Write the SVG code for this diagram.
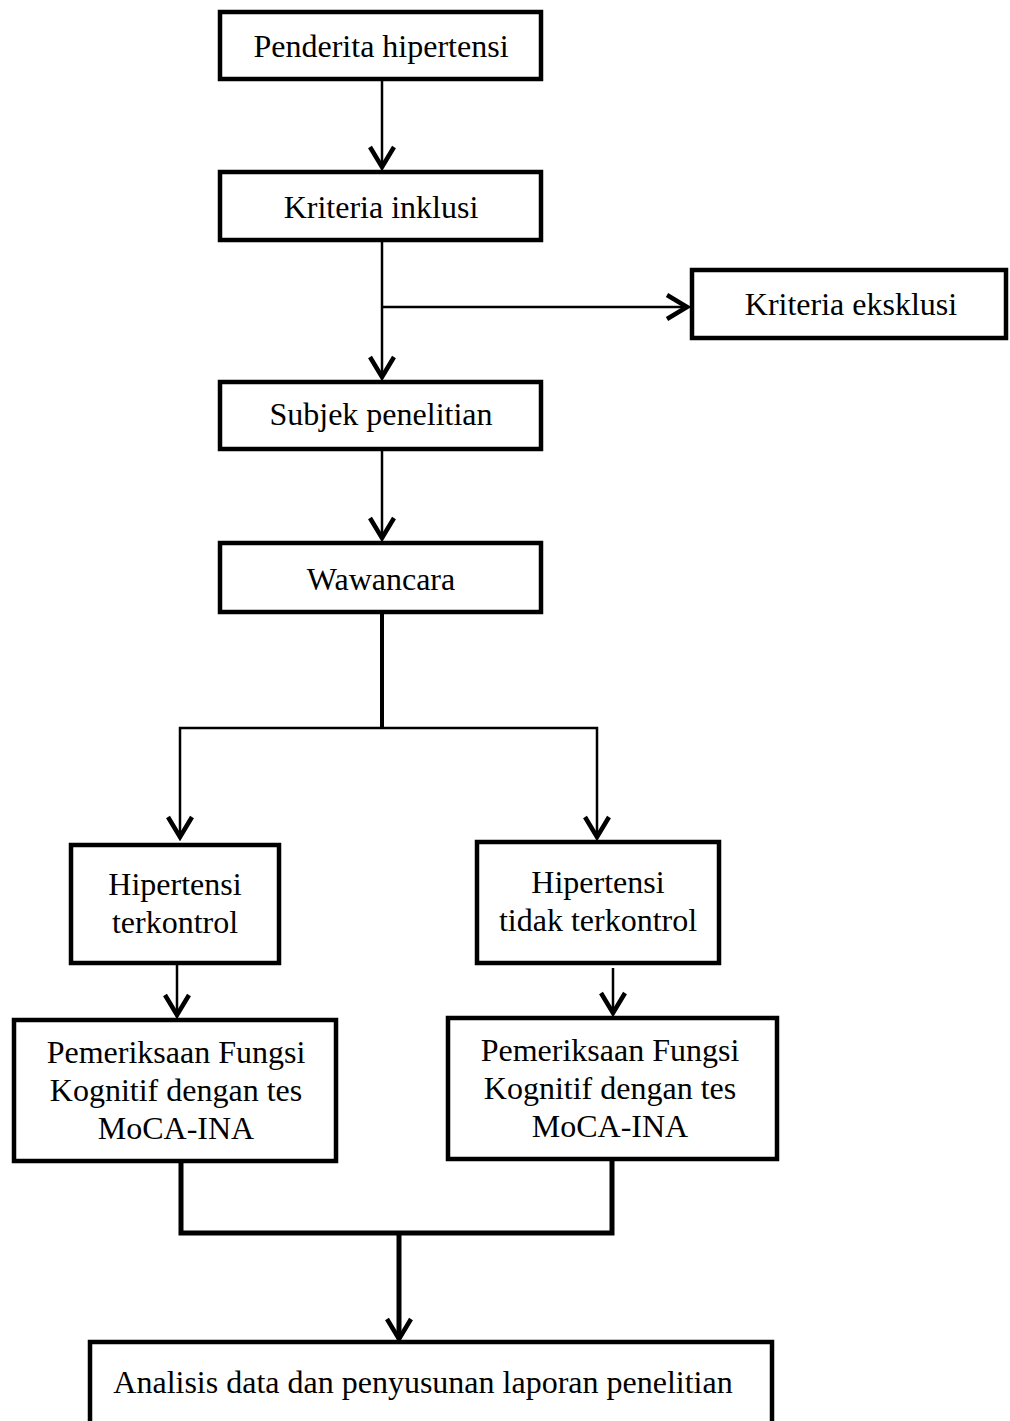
<svg xmlns="http://www.w3.org/2000/svg" width="1010" height="1421" viewBox="0 0 1010 1421">
<style>
.box{fill:#fff;stroke:#000;stroke-width:4.5}
.t{font-family:"Liberation Serif","Times New Roman",serif;font-size:32px;fill:#000;text-anchor:middle}
.c{fill:none;stroke:#000;stroke-width:2.5}
.ct{fill:none;stroke:#000;stroke-width:4}
.cb{fill:none;stroke:#000;stroke-width:5}
</style>
<defs>
<marker id="ah" markerUnits="userSpaceOnUse" viewBox="-24 -14 28 28" refX="0" refY="0" markerWidth="28" markerHeight="28" orient="auto">
<path d="M-20,-12 L0,0 L-20,12" fill="none" stroke="#000" stroke-width="4.5" stroke-linejoin="miter"/>
</marker>
</defs>
<rect width="1010" height="1421" fill="#fff"/>
<g id="connectors">
<path class="c" d="M382,81 V167" marker-end="url(#ah)"/>
<path class="c" d="M382,242 V377" marker-end="url(#ah)"/>
<path class="c" d="M382,307 H687" marker-end="url(#ah)"/>
<path class="c" d="M382,451 V538" marker-end="url(#ah)"/>
<path class="ct" d="M382,614 V728"/>
<path class="c" d="M382,728 H180 V837" marker-end="url(#ah)"/>
<path class="c" d="M382,728 H597 V837" marker-end="url(#ah)"/>
<path class="c" d="M177,965 V1015" marker-end="url(#ah)"/>
<path class="c" d="M613,968 V1013" marker-end="url(#ah)"/>
<path class="cb" d="M181,1163 V1233 H612 V1161"/>
<path class="cb" d="M399,1233 V1339" marker-end="url(#ah)"/>
</g>
<g id="n1"><rect class="box" x="220" y="12" width="321" height="67"/><text class="t" x="381" y="57">Penderita hipertensi</text></g>
<g id="n2"><rect class="box" x="220" y="172" width="321" height="68"/><text class="t" x="381" y="218">Kriteria inklusi</text></g>
<g id="n3"><rect class="box" x="692" y="270" width="314" height="68"/><text class="t" x="851" y="315">Kriteria eksklusi</text></g>
<g id="n4"><rect class="box" x="220" y="382" width="321" height="67"/><text class="t" x="381" y="425">Subjek penelitian</text></g>
<g id="n5"><rect class="box" x="220" y="543" width="321" height="69"/><text class="t" x="381" y="590">Wawancara</text></g>
<g id="n6"><rect class="box" x="71" y="845" width="208" height="118"/><text class="t" x="175" y="895">Hipertensi</text><text class="t" x="175" y="933">terkontrol</text></g>
<g id="n7"><rect class="box" x="477" y="842" width="242" height="121"/><text class="t" x="598" y="893">Hipertensi</text><text class="t" x="598" y="931">tidak terkontrol</text></g>
<g id="n8"><rect class="box" x="14" y="1020" width="322" height="141"/><text class="t" x="176" y="1063">Pemeriksaan Fungsi</text><text class="t" x="176" y="1101">Kognitif dengan tes</text><text class="t" x="176" y="1139">MoCA-INA</text></g>
<g id="n9"><rect class="box" x="448" y="1018" width="329" height="141"/><text class="t" x="610" y="1061">Pemeriksaan Fungsi</text><text class="t" x="610" y="1099">Kognitif dengan tes</text><text class="t" x="610" y="1137">MoCA-INA</text></g>
<g id="n10"><rect class="box" x="90" y="1342" width="682" height="95"/><text class="t" x="423" y="1393">Analisis data dan penyusunan laporan penelitian</text></g>
</svg>
